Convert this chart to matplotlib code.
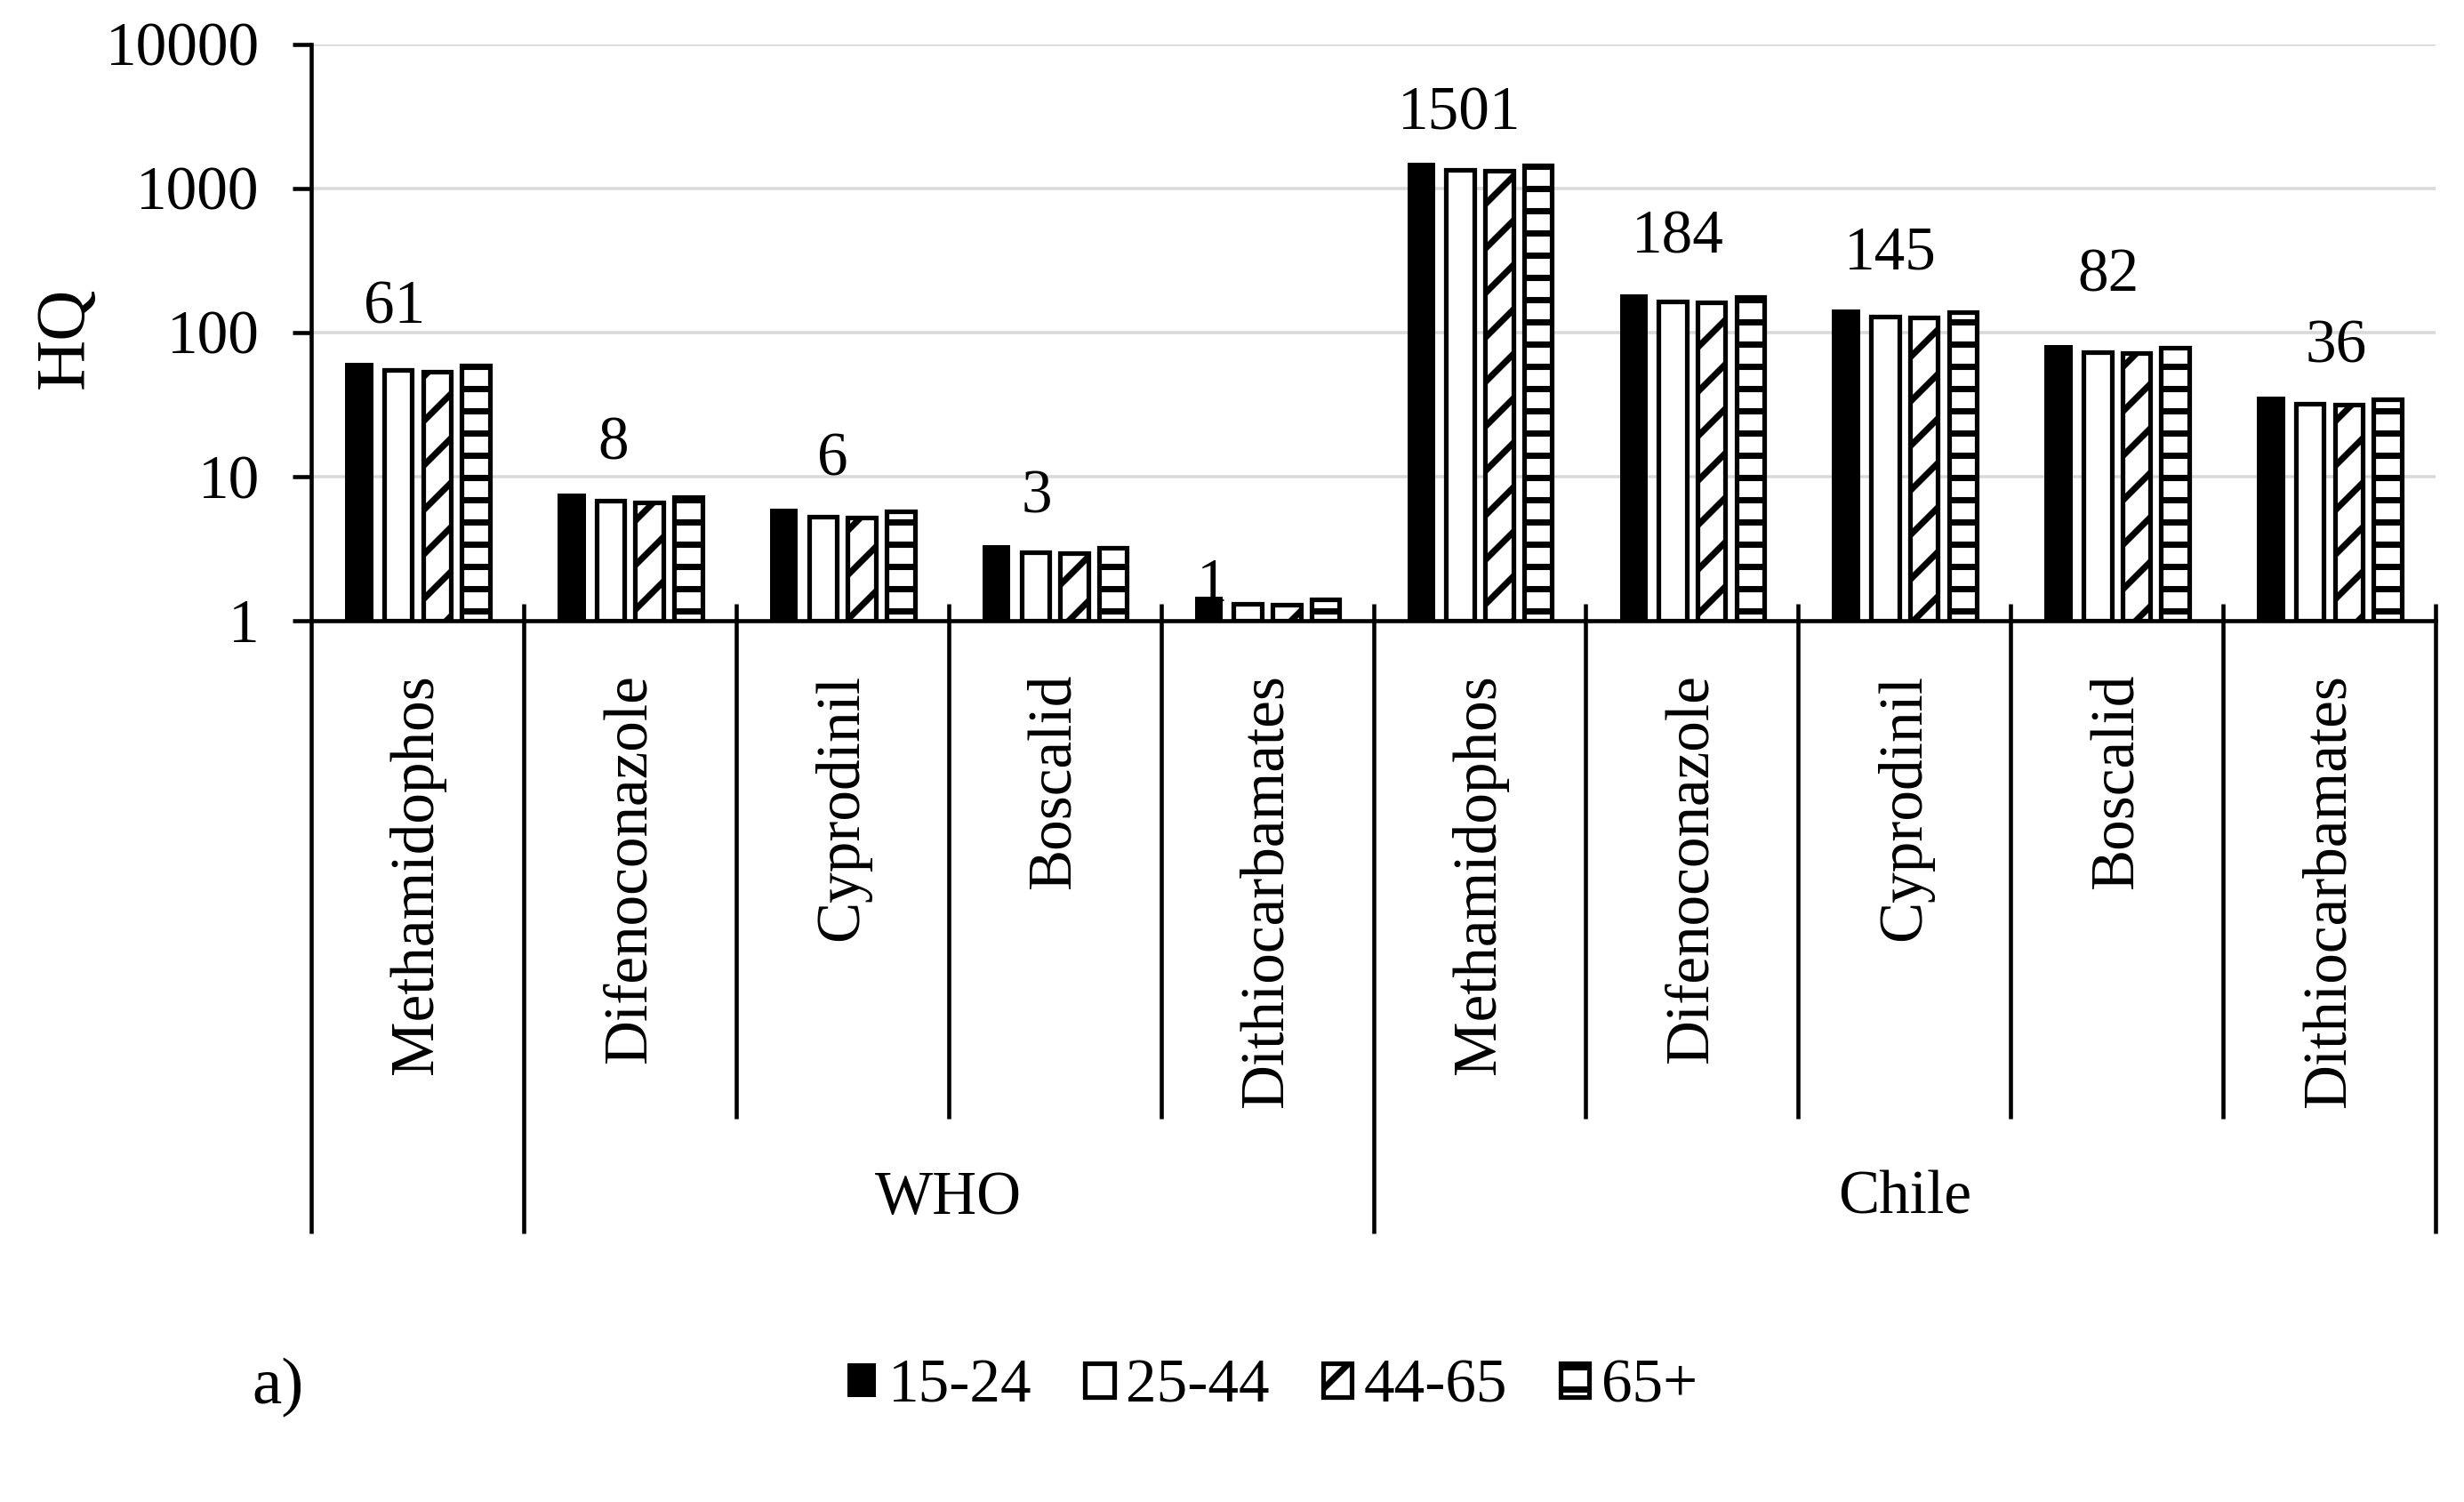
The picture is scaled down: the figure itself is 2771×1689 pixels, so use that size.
import matplotlib
matplotlib.use("Agg")
import matplotlib.pyplot as plt
import matplotlib.transforms as mtransforms
import numpy as np

# ---------------- data ----------------
categories = ["Methamidophos", "Difenoconazole", "Cyprodinil", "Boscalid", "Dithiocarbamates",
              "Methamidophos", "Difenoconazole", "Cyprodinil", "Boscalid", "Dithiocarbamates"]
group_names = ["", "WHO", "Chile"]
group_sizes = [1, 4, 5]
series_names = ["15-24", "25-44", "44-65", "65+"]
hq_15_24 = [61.3, 7.6, 5.95, 3.35, 1.47, 1501, 184, 145, 82, 36]
hq_25_44 = [54.6, 6.8, 5.3, 2.98, 1.31, 1336, 164, 129, 73, 32]
hq_44_65 = [53.6, 6.65, 5.2, 2.93, 1.29, 1313, 161, 127, 72, 31.5]
hq_65_plus = [58.5, 7.25, 5.7, 3.2, 1.40, 1433, 176, 138, 78, 34.4]
value_labels = ["61", "8", "6", "3", "1", "1501", "184", "145", "82", "36"]
yticks = [1, 10, 100, 1000, 10000]
ytick_labels = ["1", "10", "100", "1000", "10000"]

# label placement (style): x shift in category units, y shift in pixels
label_dx = [-0.11, -0.08, -0.045, -0.084, -0.26, -0.095, -0.066, -0.066, -0.04, 0.03]
label_dy = [61, 55, 55, 53, 12, 54, 63, 62, 77, 55]

# ---------------- figure ----------------
plt.rcParams["font.family"] = ["Liberation Serif", "DejaVu Serif"]
plt.rcParams["hatch.linewidth"] = 1.7
DPI = 300
W, H = 2771, 1689
fig = plt.figure(figsize=(W / DPI, H / DPI), dpi=DPI)
fig.patch.set_facecolor("white")

ax_left, ax_right, ax_top, ax_bot = 350, 2739, 49.5, 698
ax = fig.add_axes([ax_left / W, 1 - ax_bot / H, (ax_right - ax_left) / W, (ax_bot - ax_top) / H])
ax_h_px = ax_bot - ax_top

FS = 16.6
series = [hq_15_24, hq_25_44, hq_44_65, hq_65_plus]
styles = [
    dict(facecolor="black", edgecolor="black", linewidth=0),
    dict(facecolor="white", edgecolor="black", linewidth=1.25),
    dict(facecolor="white", edgecolor="black", linewidth=1.25, hatch="//"),
    dict(facecolor="white", edgecolor="black", linewidth=1.25, hatch="--"),
]
n = len(categories)
xc = np.arange(n) + 0.5
pitch = 0.183
width = 0.132
handles = []
for j, (vals, st) in enumerate(zip(series, styles)):
    v = np.array(vals, dtype=float)
    b = ax.bar(xc + (j - 1.5) * pitch, v - 1, bottom=1, width=width, zorder=3, **st)
    handles.append(b)

ax.set_yscale("log")
ax.set_ylim(1, 10000)
ax.set_xlim(0, n)
ax.set_yticks(yticks)
ax.set_yticklabels(ytick_labels)
ax.yaxis.set_minor_locator(matplotlib.ticker.NullLocator())
ax.set_xticks([])
ax.tick_params(axis="y", direction="out", length=5, width=1.1, pad=9, labelsize=FS, colors="black")
ax.grid(axis="y", color="#d9d9d9", linewidth=0.85, zorder=0)
ax.set_axisbelow(True)
for s in ["top", "right"]:
    ax.spines[s].set_visible(False)
for s in ["left", "bottom"]:
    ax.spines[s].set_linewidth(1.1)
    ax.spines[s].set_color("black")
    ax.spines[s].set_zorder(5)

# value labels
for i, lab in enumerate(value_labels):
    ax.annotate(lab, xy=(xc[i] + label_dx[i], hq_15_24[i]), xytext=(0, label_dy[i]),
                textcoords="offset pixels", ha="center", va="center", fontsize=FS)

# category separators & group lines
trans = mtransforms.blended_transform_factory(ax.transData, ax.transAxes)
short_frac = -(1258 - ax_bot) / ax_h_px
long_frac = -(1387 - ax_bot) / ax_h_px
up_frac = 19 / ax_h_px
long_bounds = set(np.concatenate([[0], np.cumsum(group_sizes)]).tolist())
for bnd in range(n + 1):
    low = long_frac if bnd in long_bounds else short_frac
    top = 0 if bnd == 0 else up_frac
    ax.plot([bnd, bnd], [top, low], transform=trans, color="black", lw=1.1,
            clip_on=False, solid_capstyle="butt", zorder=6)

# category labels
for i, name in enumerate(categories):
    ax.text(xc[i], -(758 - ax_bot) / ax_h_px, name, rotation=90, ha="center", va="top",
            transform=trans, fontsize=FS)

# group labels
start = 0
for gname, gsize in zip(group_names, group_sizes):
    if gname:
        ax.text(start + gsize / 2, -(1348 - ax_bot) / ax_h_px, gname, ha="center",
                va="center", transform=trans, fontsize=FS)
    start += gsize

# axis title
fig.text(74 / W, 1 - 380 / H, "HQ", rotation=90, ha="center", va="center", fontsize=19)

# legend
fig.legend(handles, series_names, loc="center", bbox_to_anchor=(1431 / W, 1 - 1560 / H),
           ncol=4, frameon=False, handlelength=0.47, handleheight=0.47,
           handletextpad=0.2, columnspacing=0.86, fontsize=FS)

fig.text(283 / W, 1 - 1560 / H, "a)", ha="left", va="center", fontsize=18)

fig.savefig("out.png", dpi=DPI, facecolor="white")
